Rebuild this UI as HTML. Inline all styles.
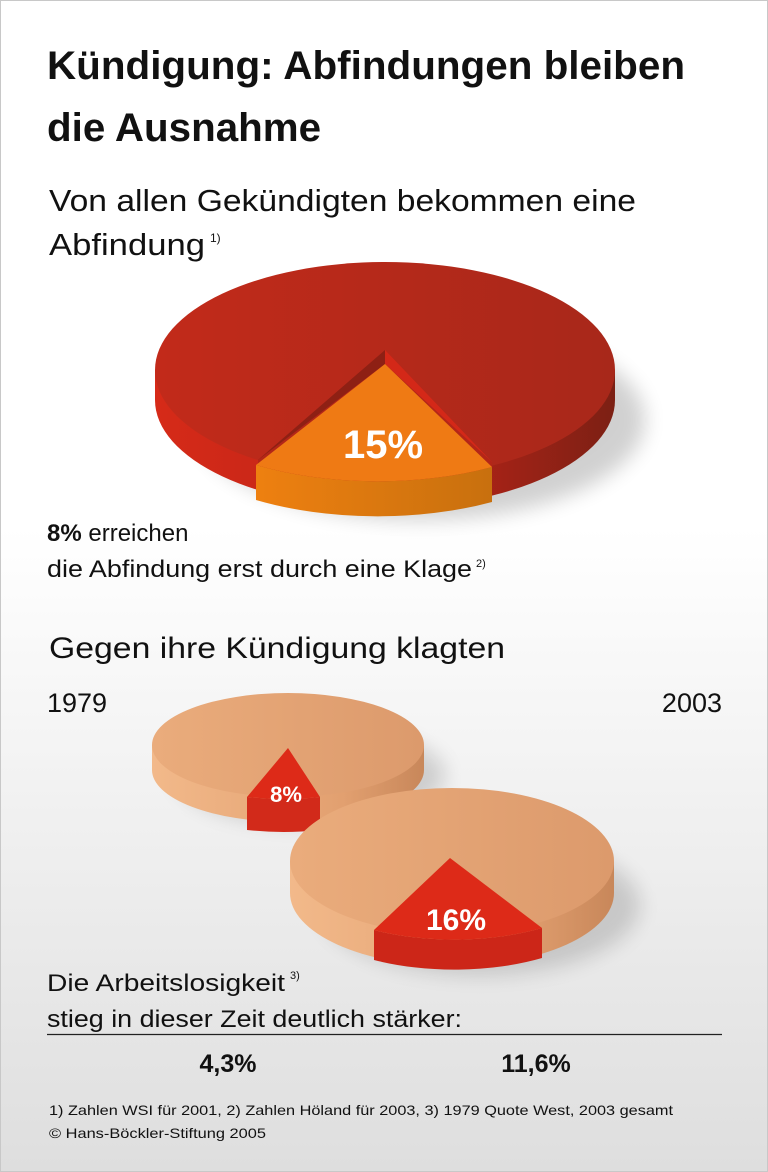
<!DOCTYPE html>
<html><head><meta charset="utf-8"><style>
html,body{margin:0;padding:0;background:#fff}
svg{display:block}
text{font-family:"Liberation Sans",Arial,sans-serif;fill:#111}
</style></head><body>
<svg width="768" height="1172" viewBox="0 0 768 1172" xmlns="http://www.w3.org/2000/svg">
<defs>
<linearGradient id="bg" x1="0" y1="0" x2="0" y2="1">
<stop offset="0" stop-color="#ffffff"/><stop offset="0.45" stop-color="#ffffff"/><stop offset="1" stop-color="#dedede"/>
</linearGradient>
<linearGradient id="redTop" x1="0" y1="0" x2="1" y2="0">
<stop offset="0" stop-color="#c22a1a"/><stop offset="1" stop-color="#a8281a"/>
</linearGradient>
<linearGradient id="redSide" x1="0" y1="0" x2="1" y2="0">
<stop offset="0" stop-color="#d62a18"/><stop offset="0.6" stop-color="#b82418"/><stop offset="1" stop-color="#7c2014"/>
</linearGradient>
<linearGradient id="orSide" x1="0" y1="0" x2="1" y2="0">
<stop offset="0" stop-color="#ee8010"/><stop offset="1" stop-color="#c8700e"/>
</linearGradient>
<linearGradient id="tanTop" x1="0" y1="0" x2="1" y2="0">
<stop offset="0" stop-color="#eaac7c"/><stop offset="1" stop-color="#dc9a6c"/>
</linearGradient>
<linearGradient id="tanSide" x1="0" y1="0" x2="1" y2="0">
<stop offset="0" stop-color="#f2b98a"/><stop offset="0.7" stop-color="#e2a070"/><stop offset="1" stop-color="#c8875a"/>
</linearGradient>
<filter id="sh" x="-20%" y="-20%" width="140%" height="160%"><feGaussianBlur stdDeviation="10"/></filter>
</defs>
<rect x="0" y="0" width="768" height="1172" fill="url(#bg)"/>
<rect x="0.5" y="0.5" width="767" height="1171" fill="none" stroke="#c8c8c8"/>

<text x="47" y="79" font-size="40" font-weight="bold" textLength="638" lengthAdjust="spacingAndGlyphs">Kündigung: Abfindungen bleiben</text>
<text x="47" y="141" font-size="40" font-weight="bold" textLength="274" lengthAdjust="spacingAndGlyphs">die Ausnahme</text>
<text x="49" y="211" font-size="31" textLength="587" lengthAdjust="spacingAndGlyphs">Von allen Gekündigten bekommen eine</text>
<text x="49" y="255" font-size="31" textLength="156" lengthAdjust="spacingAndGlyphs">Abfindung</text>
<text x="210" y="242" font-size="12">1)</text>

<ellipse cx="420" cy="420" rx="225" ry="100" fill="#000" opacity="0.18" filter="url(#sh)"/>
<path d="M155 370 L155 400 A230 108 0 0 0 615 400 L615 370 Z" fill="url(#redSide)"/>
<ellipse cx="385" cy="370" rx="230" ry="108" fill="url(#redTop)"/>
<path d="M385 350 L258 460 L258 478 L385 364 Z" fill="#8e2014"/>
<path d="M385 350 L492 462 L492 480 L385 364 Z" fill="#d42818"/>
<path d="M385 364 L258 460 L258 500 L492 500 L492 462 Z" fill="#b32618"/>
<path d="M256 465 A230 108 0 0 0 492 467 L492 502 A230 108 0 0 1 256 500 Z" fill="url(#orSide)"/>
<path d="M385 364 L256 465 A230 108 0 0 0 492 467 Z" fill="#ef7a14"/>
<text x="383" y="458" font-size="40" font-weight="bold" style="fill:#fff" text-anchor="middle">15%</text>

<text x="47" y="541" font-size="24"><tspan font-weight="bold">8%</tspan> erreichen</text>
<text x="47" y="577" font-size="24" textLength="425" lengthAdjust="spacingAndGlyphs">die Abfindung erst durch eine Klage</text>
<text x="476" y="567" font-size="11">2)</text>

<text x="49" y="658" font-size="30" textLength="456" lengthAdjust="spacingAndGlyphs">Gegen ihre Kündigung klagten</text>
<text x="47" y="712" font-size="27">1979</text>
<text x="722" y="712" font-size="27" text-anchor="end">2003</text>

<ellipse cx="310" cy="775" rx="135" ry="50" fill="#000" opacity="0.15" filter="url(#sh)"/>
<path d="M152 745 L152 770 A136 52 0 0 0 424 770 L424 745 Z" fill="url(#tanSide)"/>
<ellipse cx="288" cy="745" rx="136" ry="52" fill="url(#tanTop)"/>
<path d="M247 797 A136 52 0 0 0 320 797 L320 830 A136 52 0 0 1 247 830 Z" fill="#d22a1a"/>
<path d="M288 748 L247 797 A136 52 0 0 0 320 797 Z" fill="#dd2a18"/>
<text x="286" y="802" font-size="22" font-weight="bold" style="fill:#fff" text-anchor="middle">8%</text>

<ellipse cx="480" cy="905" rx="160" ry="70" fill="#000" opacity="0.15" filter="url(#sh)"/>
<path d="M290 861 L290 893 A162 73 0 0 0 614 893 L614 861 Z" fill="url(#tanSide)"/>
<ellipse cx="452" cy="861" rx="162" ry="73" fill="url(#tanTop)"/>
<path d="M374 930 A162 73 0 0 0 542 928 L542 958 A162 73 0 0 1 374 960 Z" fill="#cc2618"/>
<path d="M450 858 L374 930 A162 73 0 0 0 542 928 Z" fill="#dd2a18"/>
<text x="456" y="930" font-size="30" font-weight="bold" style="fill:#fff" text-anchor="middle">16%</text>

<text x="47" y="991" font-size="24" textLength="238" lengthAdjust="spacingAndGlyphs">Die Arbeitslosigkeit</text>
<text x="290" y="979" font-size="11">3)</text>
<text x="47" y="1027" font-size="24" textLength="415" lengthAdjust="spacingAndGlyphs">stieg in dieser Zeit deutlich stärker:</text>
<line x1="47" y1="1034.5" x2="722" y2="1034.5" stroke="#222" stroke-width="1.2"/>
<text x="228" y="1072" font-size="25" font-weight="bold" text-anchor="middle">4,3%</text>
<text x="536" y="1072" font-size="25" font-weight="bold" text-anchor="middle">11,6%</text>
<text x="49" y="1115" font-size="14" textLength="624" lengthAdjust="spacingAndGlyphs">1) Zahlen WSI für 2001, 2) Zahlen Höland für 2003, 3) 1979 Quote West, 2003 gesamt</text>
<text x="49" y="1138" font-size="14" textLength="217" lengthAdjust="spacingAndGlyphs">© Hans-Böckler-Stiftung 2005</text>
</svg>
</body></html>
